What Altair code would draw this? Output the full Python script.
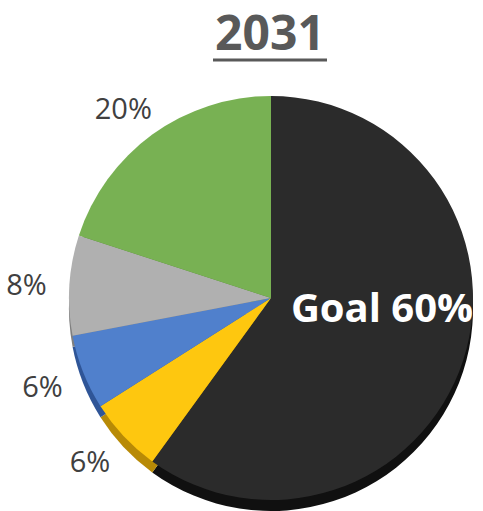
import altair as alt
import pandas as pd

categories = ["Goal", "Yellow", "Blue", "Gray", "Green"]
values = [60, 6, 6, 8, 20]
labels = ["", "6%", "6%", "8%", "20%"]
top_colors = ["#2b2b2b", "#fec70f", "#5080cc", "#b0b0b0", "#78b153"]
side_colors = ["#101010", "#b88a06", "#2f5597", "#7f7f7f", "#548235"]
title_text = "2031"
goal_label = "Goal 60%"

df = pd.DataFrame({
    "cat": categories,
    "value": values,
    "label": labels,
    "order": list(range(len(categories))),
})

CX, CY, R = 271, 298, 202
DEPTH = 11

theta = alt.Theta("value:Q", stack=True)
order = alt.Order("order:Q")

base = alt.Chart(df)

side = base.mark_arc(radius=R).encode(
    theta=theta, order=order,
    color=alt.Color("cat:N", scale=alt.Scale(domain=categories, range=side_colors), legend=None),
    x=alt.value(CX), y=alt.value(CY + DEPTH),
)

top = base.mark_arc(radius=R).encode(
    theta=theta, order=order,
    fill=alt.Fill("cat:N", scale=alt.Scale(domain=categories, range=top_colors), legend=None),
    x=alt.value(CX), y=alt.value(CY),
)

lbl = base.mark_text(radius=236, fontSize=29, font="Open Sans", color="#404040").encode(
    theta=theta, order=order, text="label:N",
    x=alt.value(CX - 9), y=alt.value(CY + 3),
)

goal = base.transform_filter(alt.datum.cat == "Goal").transform_calculate(
    t=f"'{goal_label}'"
).mark_text(fontSize=40, font="Open Sans", fontWeight="bold", color="white", baseline="alphabetic").encode(
    x=alt.value(382), y=alt.value(322), text="t:N",
)

title = base.transform_filter(alt.datum.cat == "Goal").transform_calculate(
    t=f"'{title_text}'"
).mark_text(fontSize=48, font="Open Sans", fontWeight="bold", color="#595959", baseline="alphabetic").encode(
    x=alt.value(270), y=alt.value(50), text="t:N",
)

underline = base.transform_filter(alt.datum.cat == "Goal").mark_rule(
    color="#595959", strokeWidth=3
).encode(x=alt.value(213), x2=alt.value(327), y=alt.value(60))

chart = alt.layer(side, top, lbl, goal, title, underline).resolve_scale(
    color="independent", fill="independent"
).properties(
    width=483, height=511, padding=0, autosize="none",
).configure_view(stroke=None)

chart.save("out.html", embed_options={"renderer": "svg", "actions": False})
